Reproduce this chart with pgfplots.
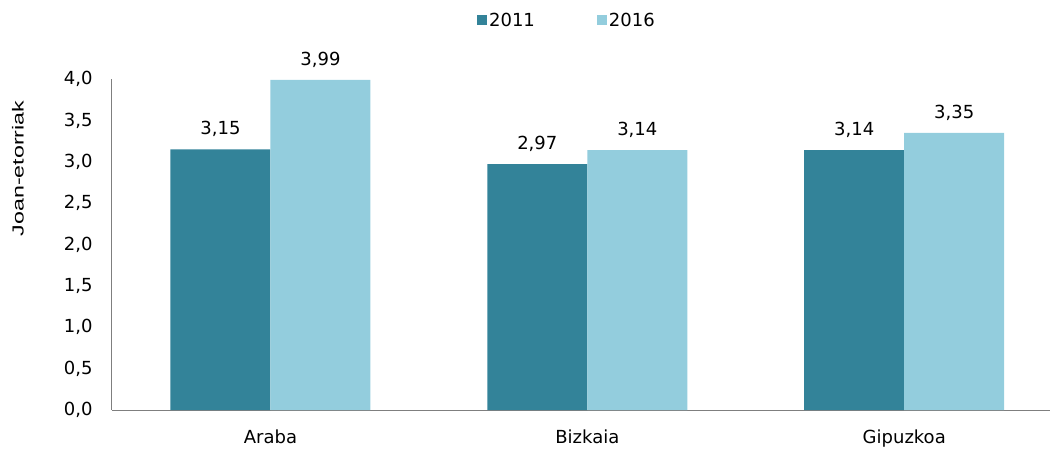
\documentclass[border=0pt]{standalone}
\usepackage{graphicx}
\usepackage{pgfplots}
\pgfplotsset{compat=1.18}
\usepackage{fontspec}
\setmainfont{DejaVu Sans}
\newfontfamily\labelfont{Liberation Sans}
\definecolor{dark}{HTML}{338399}
\definecolor{light}{HTML}{93CDDD}
\definecolor{axgray}{HTML}{7F7F7F}
\begin{document}
\begin{tikzpicture}
\useasboundingbox (-112pt,-38pt) rectangle (941pt,410pt);
\begin{axis}[
  at={(0,0)}, anchor=south west,
  scale only axis,
  width=938pt, height=331pt,
  xmin=-0.5, xmax=2.46,
  ymin=0, ymax=4,
  ybar=0pt, bar width=100pt,
  axis x line*=bottom, axis y line*=left,
  axis line style={axgray, line width=1pt, -},
  xtick={0,1,2},
  xticklabels={Araba,Bizkaia,Gipuzkoa},
  ytick={0,0.5,...,4},
  major tick length=0pt,
  /pgf/number format/assume math mode=true,
  yticklabel={\pgfmathprintnumber[fixed,fixed zerofill,precision=1,use comma]{\tick}},
  yticklabel style={font=\fontsize{18}{21}\selectfont, anchor=east, xshift=-16pt},
  xticklabel style={font=\fontsize{18}{21}\selectfont, anchor=north, yshift=-16pt},
  ylabel={\scalebox{1.45}[1]{\labelfont Joan-etorriak}},
  ylabel style={font=\fontsize{16}{19}\selectfont, at={(axis description cs:0,0.73)}, anchor=center, yshift=94pt},
  nodes near coords={\pgfmathprintnumber[fixed,fixed zerofill,precision=2,use comma]{\pgfplotspointmeta}},
  nodes near coords style={font=\fontsize{18}{21}\selectfont, anchor=south, yshift=9pt, text=black},
  legend columns=2,
  legend style={draw=none, fill=none, at={(axis description cs:0.485,1.178)}, anchor=center,
    font=\fontsize{18}{21}\selectfont, /tikz/every even column/.append style={column sep=60pt}},
  legend image code/.code={\fill[#1] (0pt,-5pt) rectangle (10pt,5pt);},
  clip=false,
]
\addplot[fill=dark, draw=none] coordinates {(0,3.15) (1,2.97) (2,3.14)};
\addplot[fill=light, draw=none] coordinates {(0,3.99) (1,3.14) (2,3.35)};
\legend{2011,2016}
\end{axis}
\end{tikzpicture}
\end{document}
